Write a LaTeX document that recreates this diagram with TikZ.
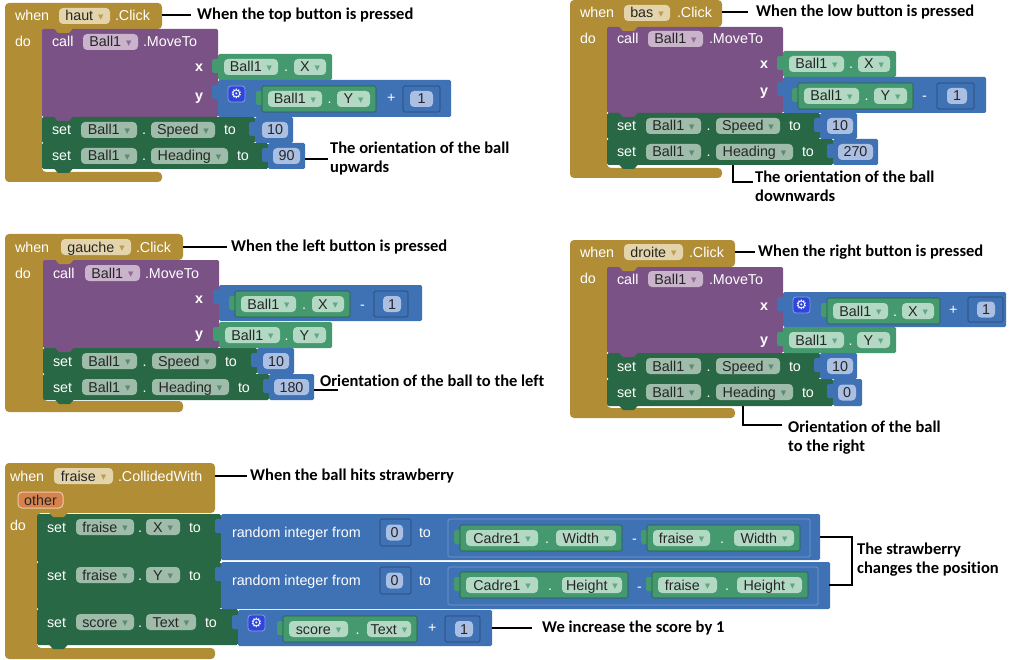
\documentclass[tikz,border=0pt]{standalone}
\usepackage{fontspec}
\setmainfont{Liberation Sans}
\newfontfamily\annf{Carlito}[Ligatures=NoCommon]
\newfontfamily\symf{DejaVu Sans}
\usetikzlibrary{calc}
\definecolor{gold}{HTML}{B18E35}
\definecolor{goldchip}{HTML}{E3D4AB}
\definecolor{goldtri}{HTML}{BE9C52}
\definecolor{purp}{HTML}{7B5286}
\definecolor{purpchip}{HTML}{C9B4CC}
\definecolor{purptri}{HTML}{8E6C99}
\definecolor{setg}{HTML}{296845}
\definecolor{setchip}{HTML}{9EBCA9}
\definecolor{settri}{HTML}{5E8A6F}
\definecolor{getg}{HTML}{44996F}
\definecolor{getchip}{HTML}{B3D9C4}
\definecolor{gettri}{HTML}{62A883}
\definecolor{mblue}{HTML}{3F71B5}
\definecolor{numchip}{HTML}{AABFE2}
\definecolor{gearb}{HTML}{2F46DB}
\definecolor{oth}{HTML}{D6824C}
\definecolor{othb}{HTML}{F1C7A4}
\newcommand\bfont{\fontsize{14.3}{16}\selectfont}
\newcommand\afont{\annf\bfseries\fontsize{16.5}{19}\selectfont}
\newcommand\tri[1]{\hspace{5pt}\raisebox{1.2pt}{\color{#1}\symf\fontsize{7}{7}\selectfont ▼}}
% value block with left tab
\newcommand\vblk[7][]{%
  \fill[#3,rounded corners=1.5] (#4-6,#5+5) rectangle (#4+2,#5+19);
  \node[blkn,fill=#3,minimum width=#6,minimum height=#7,#1] (#2) at (#4,#5) {};}
% number block
\newcommand\numb[9][]{%
  \vblk[#1]{#2}{mblue}{#3}{#4}{#5}{#6}
  \node[chip,fill=numchip,minimum width=#8] (#2c) at (#7,#4+#6/2) {#9};}
% getter block
\newcommand\getb[9][]{%
  \vblk[#1]{#2}{getg}{#3}{#4}{#5}{26}
  \node[chip,fill=getchip,minimum width=#7] (#2a) at (#3+6,#4+13) {#6\tri{gettri}};
  \node[chip,fill=getchip,minimum width=#9,anchor=east] (#2b) at (#3+#5-6,#4+13) {#8\tri{gettri}};
  \node[wt,anchor=center] (#2d) at ($(#2a.east)!.5!(#2b.west)$) {.};}
% setter block
\newcommand\setb[9]{%
  \node[blkn,fill=setg,minimum width=#4,minimum height=#5] (#1) at (#2,#3) {};
  \node[wt] (#1s) at (#2+10,#3+13) {set};
  \node[chip,fill=setchip,minimum width=#7] (#1a) at (#2+39,#3+13) {#6\tri{settri}};
  \node[chip,fill=setchip,minimum width=#9] (#1b) at (#2+109,#3+13) {#8\tri{settri}};
  \node[wt,anchor=center] (#1d) at ($(#1a.east)!.5!(#1b.west)$) {.};
  \node[wt] (#1t) at ($(#1b.east)+(9,0)$) {to};}
% event C shape
\newcommand\evt[7]{%
  \fill[gold,rounded corners=4] (#1,#2) -- (#3,#2) -- (#3,#4) -- (#5,#4) -- (#5,#6) -- (#3,#6) -- (#3,#7) -- (#1,#7) -- cycle;}
\newcommand\bump[3]{\fill[#1] (#2+12,#3-0.5) -- (#2+16,#3+4) -- (#2+27,#3+4) -- (#2+31,#3-0.5) -- cycle;}
\newcommand\gear[3]{\node[blkn,fill=gearb,draw=gearb!55!white,line width=0.8,rounded corners=3,minimum width=17,minimum height=16,text=white,font=\symf\fontsize{13}{13}\selectfont] (#1) at (#2,#3) {⚙};}

\begin{document}
\begin{tikzpicture}[x=1pt,y=-1pt,
  blkn/.style={anchor=north west,inner sep=0,outer sep=0,rounded corners=1.5},
  wt/.style={font=\bfont,text=white,inner sep=0,outer sep=0,anchor=west,text height=10,text depth=0},
  xy/.style={wt,font=\bfont\bfseries},
  chip/.style={font=\bfont,text=black!85,inner sep=0,outer sep=0,anchor=west,rounded corners=4,minimum height=16,text height=10,text depth=0},
  ann/.style={font=\afont,inner sep=0,anchor=west,align=left},
  lead/.style={line width=2.6,black},
  nestg/.style={draw=getg!60!black,line width=0.6},
  nestb/.style={draw=mblue!60!black,line width=0.6},
  nestl/.style={draw=mblue!70!white,line width=0.7}]
\path[use as bounding box] (0,0) rectangle (1016,660);

% ================= Block 1 : haut =================
\evt{5}{3}{162}{29}{42}{172}{182}
\node[blkn,fill=purp,minimum width=176,minimum height=88] (call1) at (42,29) {};
\setb{sp1}{42}{117}{213}{26}{Ball1}{56}{Speed}{64}
\setb{hd1}{42}{143}{226}{26}{Ball1}{56}{Heading}{77}
\getb{gx1}{218}{54}{114}{Ball1}{54}{X}{32}
\vblk{add1}{mblue}{218}{80}{233}{37}
\gear{gear1}{228}{86}
\getb[nestg]{gy1}{262}{86}{114}{Ball1}{54}{Y}{33}
\node[wt] (pl1) at (387,98) {+};
\numb[nestb]{n1a}{403}{86}{37}{26}{410}{23}{1}
\numb{n1b}{255}{117}{38}{26}{262}{26}{10}
\numb{n1c}{268}{143}{37}{26}{273}{27}{90}
\bump{gold}{42}{29}\bump{purp}{42}{117}\bump{setg}{42}{143}\bump{setg}{42}{169}
\node[wt] (w1) at (15,16) {when};
\node[chip,fill=goldchip,minimum width=51] (e1) at (59,16) {haut\tri{goldtri}};
\node[wt] (c1) at (115,16) {.Click};
\node[wt] (do1) at (15,42) {do};
\node[wt] (ca1) at (52,42) {call};
\node[chip,fill=purpchip,minimum width=55] (b1) at (83,42) {Ball1\tri{purptri}};
\node[wt] (m1) at (143,42) {.MoveTo};
\node[xy] (lx1) at (195,67) {x};
\node[xy] (ly1) at (195,96) {y};
\coordinate (h1) at (162,15);
\node[ann] (a1) at (197,15) {When the top button is pressed};
\draw[lead] (h1) -- ([xshift=-6]a1.west);
\node[ann] (a2) at (330,159) {The orientation of the ball\\upwards};
\draw[lead] (n1c.east |- a2.west) -- ([xshift=-2]a2.west);

% ================= Block 2 : bas =================
\evt{570}{0}{722}{27}{607}{168}{178}
\node[blkn,fill=purp,minimum width=176,minimum height=86] (call2) at (607,27) {};
\setb{sp2}{607}{113}{213}{26}{Ball1}{55}{Speed}{64}
\setb{hd2}{607}{139}{226}{26}{Ball1}{55}{Heading}{77}
\getb{gx2}{783}{51}{113}{Ball1}{55}{X}{32}
\vblk{sub2}{mblue}{783}{77}{203}{36}
\getb[nestg]{gy2}{798}{83}{115}{Ball1}{55}{Y}{33}
\node[wt] (mi2) at (922,96) {-};
\numb[nestb]{n2a}{937}{83}{37}{26}{947}{20}{1}
\numb{n2b}{820}{113}{37}{26}{827}{26}{10}
\numb{n2c}{833}{139}{45}{26}{838}{35}{270}
\bump{gold}{607}{27}\bump{purp}{607}{113}\bump{setg}{607}{139}\bump{setg}{607}{165}
\node[wt] (w2) at (580,13) {when};
\node[chip,fill=goldchip,minimum width=46] (e2) at (624,13) {bas\tri{goldtri}};
\node[wt] (c2) at (677,13) {.Click};
\node[wt] (do2) at (580,39) {do};
\node[wt] (ca2) at (617,39) {call};
\node[chip,fill=purpchip,minimum width=55] (b2) at (648,39) {Ball1\tri{purptri}};
\node[wt] (m2) at (709,39) {.MoveTo};
\node[xy] (lx2) at (760,64) {x};
\node[xy] (ly2) at (760,91) {y};
\coordinate (h2) at (722,12);
\node[ann] (a3) at (756,12) {When the low button is pressed};
\draw[lead] (h2) -- ([xshift=-8]a3.west);
\coordinate (k2) at (733,165);
\coordinate (k2b) at (753,182);
\node[ann] (a4) at (755,186) {The orientation of the ball\\downwards};
\draw[lead] (k2) |- (k2b);

% ================= Block 3 : gauche =================
\evt{5}{234}{183}{260}{43}{401}{412}
\node[blkn,fill=purp,minimum width=176,minimum height=88] (call3) at (43,260) {};
\setb{sp3}{43}{348}{214}{26}{Ball1}{55}{Speed}{64}
\setb{hd3}{43}{374}{226}{26}{Ball1}{55}{Heading}{77}
\vblk{sub3}{mblue}{219}{285}{203}{36}
\getb[nestg]{gx3}{235}{291}{115}{Ball1}{55}{X}{32}
\node[wt] (mi3) at (360,304) {-};
\numb[nestb]{n3a}{374}{291}{34}{26}{383}{18}{1}
\getb{gy3}{219}{322}{113}{Ball1}{55}{Y}{33}
\numb{n3b}{257}{348}{37}{26}{263}{26}{10}
\numb{n3c}{269}{374}{45}{26}{274}{35}{180}
\bump{gold}{43}{260}\bump{purp}{43}{348}\bump{setg}{43}{374}\bump{setg}{43}{400}
\node[wt] (w3) at (15,247) {when};
\node[chip,fill=goldchip,minimum width=70] (e3) at (61,247) {gauche\tri{goldtri}};
\node[wt] (c3) at (136,247) {.Click};
\node[wt] (do3) at (15,273) {do};
\node[wt] (ca3) at (53,273) {call};
\node[chip,fill=purpchip,minimum width=55] (b3) at (85,273) {Ball1\tri{purptri}};
\node[wt] (m3) at (145,273) {.MoveTo};
\node[xy] (lx3) at (195,298) {x};
\node[xy] (ly3) at (195,333) {y};
\coordinate (h3) at (183,247);
\node[ann] (a5) at (231,247) {When the left button is pressed};
\draw[lead] (h3) -- ([xshift=-4]a5.west);
\node[ann] (a6) at (320,381) {Orientation of the ball to the left};
\coordinate (k3) at (338,390);
\draw[lead] (n3c.east |- k3) -- (k3);

% ================= Block 4 : droite =================
\evt{570}{240}{735}{267}{607}{408}{418}
\node[blkn,fill=purp,minimum width=176,minimum height=86] (call4) at (607,267) {};
\setb{sp4}{607}{353}{213}{26}{Ball1}{55}{Speed}{64}
\setb{hd4}{607}{379}{226}{27}{Ball1}{55}{Heading}{77}
\vblk{add4}{mblue}{783}{292}{223}{35}
\gear{gear4}{793}{297}
\getb[nestg]{gx4}{827}{298}{113}{Ball1}{55}{X}{32}
\node[wt] (pl4) at (949,309) {+};
\numb[nestb]{n4a}{968}{297}{35}{25}{977}{18}{1}
\getb{gy4}{783}{327}{113}{Ball1}{55}{Y}{33}
\numb{n4b}{820}{353}{37}{26}{827}{26}{10}
\numb{n4c}{833}{379}{29}{27}{838}{18}{0}
\bump{gold}{607}{267}\bump{purp}{607}{353}\bump{setg}{607}{379}\bump{setg}{607}{406}
\node[wt] (w4) at (580,252) {when};
\node[chip,fill=goldchip,minimum width=59] (e4) at (624,252) {droite\tri{goldtri}};
\node[wt] (c4) at (689,252) {.Click};
\node[wt] (do4) at (580,278) {do};
\node[wt] (ca4) at (617,279) {call};
\node[chip,fill=purpchip,minimum width=55] (b4) at (648,279) {Ball1\tri{purptri}};
\node[wt] (m4) at (709,279) {.MoveTo};
\node[xy] (lx4) at (760,305) {x};
\node[xy] (ly4) at (760,339) {y};
\coordinate (h4) at (735,252);
\node[ann] (a7) at (758,252) {When the right button is pressed};
\draw[lead] (h4) -- ([xshift=-3]a7.west);
\coordinate (k4) at (743,406);
\coordinate (k4b) at (782,425);
\node[ann] (a8) at (788,438) {Orientation of the ball\\to the right};
\draw[lead] (k4) |- (k4b);

% ================= Block 5 : fraise =================
\evt{5}{463}{215}{513}{37}{648}{659}
\setb{sx5}{37}{514}{184}{48}{fraise}{58}{X}{34}
\setb{sy5}{37}{562}{184}{47}{fraise}{58}{Y}{34}
\setb{ss5}{37}{609}{201}{36}{score}{58}{Text}{50}
% random 1
\vblk{r1}{mblue}{221}{514}{599}{46}
\node[wt] (rt1) at (232,532) {random integer from};
\numb[nestb]{z1}{380}{519}{31}{27}{386}{17}{0}
\node[wt] (to1) at (419,532) {to};
\vblk[nestl]{ms1}{mblue}{448}{519}{362}{38}
\getb[nestg]{cw1}{460}{525}{162}{Cadre1}{72}{Width}{60}
\node[wt] (mi5a) at (632,538) {-};
\getb[nestg]{fw1}{647}{525}{153}{fraise}{57}{Width}{60}
% random 2
\vblk{r2}{mblue}{221}{562}{609}{47}
\node[wt] (rt2) at (232,580) {random integer from};
\numb[nestb]{z2}{380}{567}{31}{27}{386}{17}{0}
\node[wt] (to2) at (419,580) {to};
\vblk[nestl]{ms2}{mblue}{448}{567}{370}{38}
\getb[nestg]{ch2}{460}{572}{168}{Cadre1}{72}{Height}{60}
\node[wt] (mi5b) at (637,586) {-};
\getb[nestg]{fh2}{652}{572}{156}{fraise}{59}{Height}{65}
% add
\vblk{ad5}{mblue}{238}{610}{254}{36}
\gear{gear5}{248}{615}
\getb[nestg]{st5}{283}{616}{134}{score}{59}{Text}{44}
\node[wt] (pl5) at (428,627) {+};
\numb[nestb]{n5}{445}{616}{35}{26}{455}{18}{1}
\bump{gold}{37}{513}\bump{setg}{37}{562}\bump{setg}{37}{609}\bump{setg}{37}{645}
\node[wt] (w5) at (10,476) {when};
\node[chip,fill=goldchip,minimum width=59] (e5) at (54,476) {fraise\tri{goldtri}};
\node[wt] (c5) at (118,476) {.CollidedWith};
\node[chip,fill=oth,draw=othb,line width=1,minimum width=45] (oth) at (18,500) {other};
\node[wt] (do5) at (10,525) {do};
\coordinate (h5) at (215,476);
\node[ann] (a9) at (250,476) {When the ball hits strawberry};
\draw[lead] (h5) -- ([xshift=-3]a9.west);
\coordinate (k5) at (532,628);
\node[ann] (a10) at (542,628) {We increase the score by 1};
\draw[lead] (ad5.east |- k5) -- (k5);
\coordinate (bk1) at (r1.east |- 0,537);
\coordinate (bk2) at (829,585);
\coordinate (bx) at (852,560);
\node[ann] (a11) at (857,560) {The strawberry\\changes the position};
\draw[lead] (bk1) -- (bk1 -| bx) -- (bk2 -| bx) -- (bk2);
\end{tikzpicture}
\end{document}
